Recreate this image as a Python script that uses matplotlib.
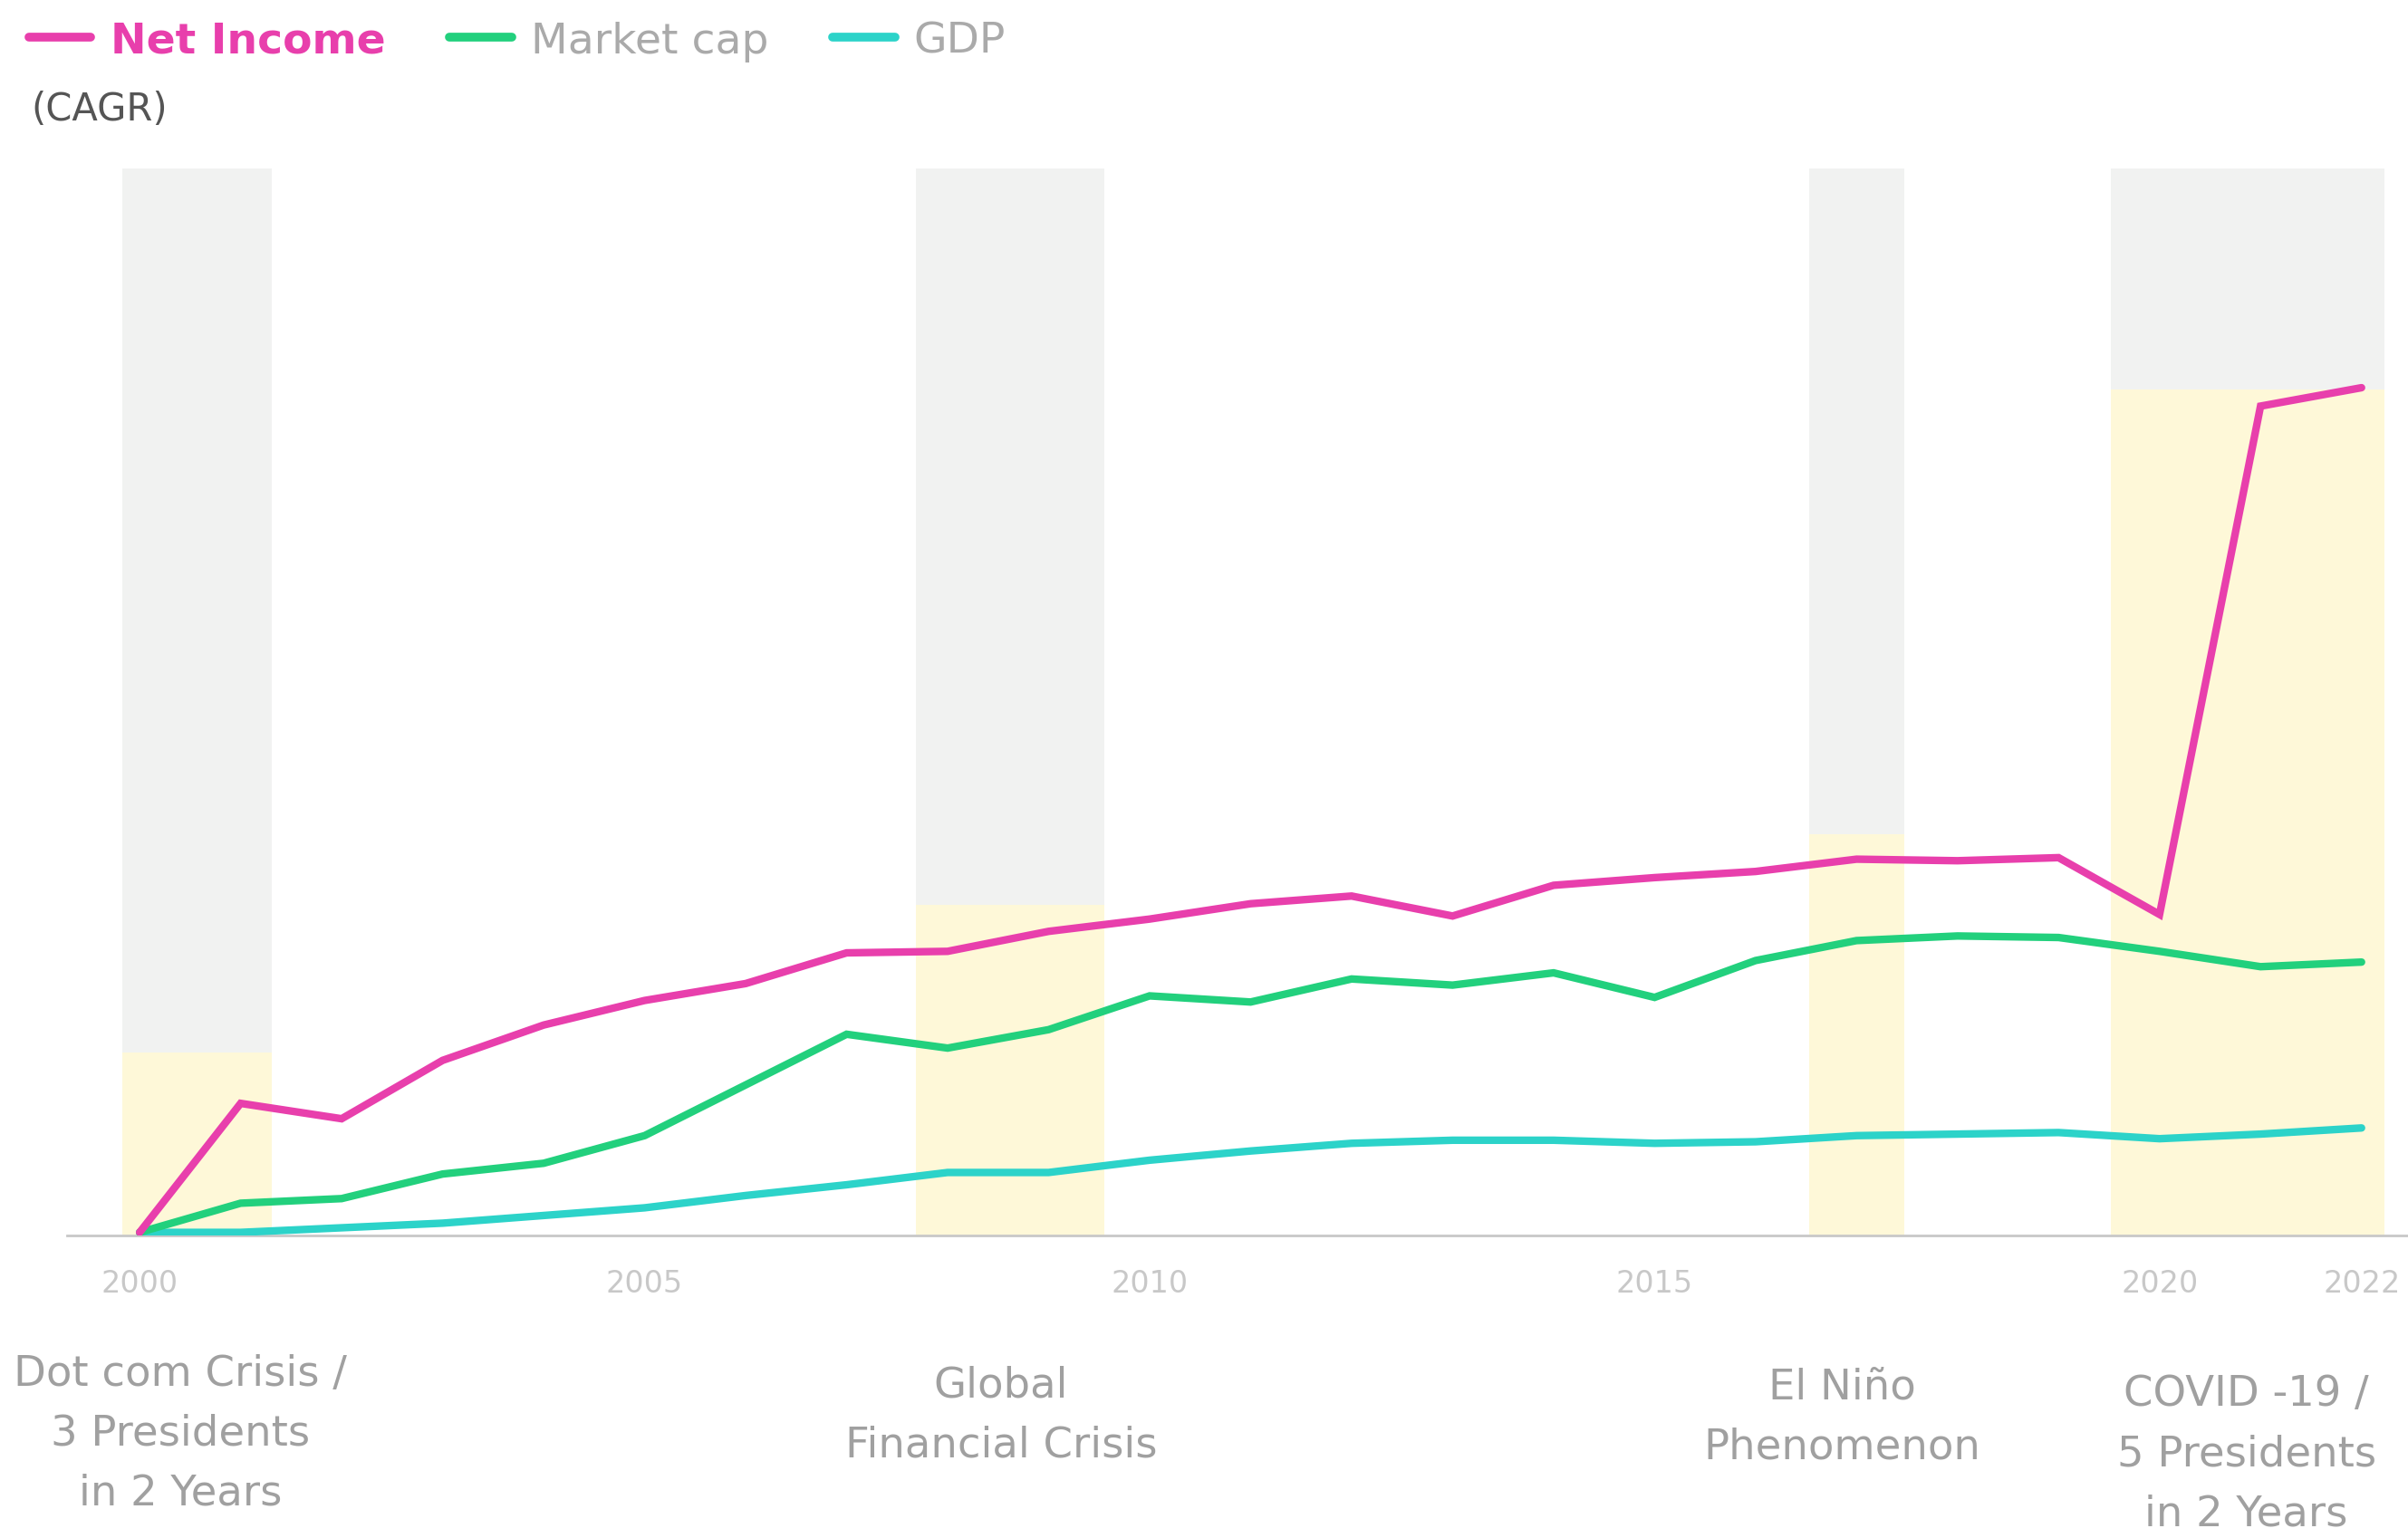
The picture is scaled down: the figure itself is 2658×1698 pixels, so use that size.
import matplotlib.pyplot as plt
from matplotlib.lines import Line2D
from matplotlib.transforms import blended_transform_factory

plt.rcParams['font.family'] = ['DejaVu Sans']

# CAGR index (arbitrary units, 0 = base year 2000)
years = list(range(2000, 2023))
net_income = [2, 86, 76, 114, 137, 153, 164, 184, 185, 198, 206, 216, 221, 208, 228,
              233, 237, 245, 244, 246, 209, 540, 552]
market_cap = [2, 21, 24, 40, 47, 65, 98, 131, 122, 134, 156, 152, 167, 163, 171,
              155, 179, 192, 195, 194, 185, 175, 178]
gdp = [2, 2, 5, 8, 13, 18, 26, 33, 41, 41, 49, 55, 60, 62, 62,
       60, 61, 65, 66, 67, 63, 66, 70]

# crisis periods: start, end, height of the yellow part, label
band_start = [1999.83, 2007.69, 2016.53, 2019.52]
band_end = [2001.31, 2009.55, 2017.47, 2022.23]
band_top = [119, 215, 261, 551]
band_labels = ["Dot com Crisis /\n3 Presidents\nin 2 Years",
               "Global\nFinancial Crisis",
               "El Niño\nPhenomenon",
               "COVID -19 /\n5 Presidents\nin 2 Years"]
label_x = [2000.4, 2008.53, 2016.86, 2020.86]
label_y = [0.068, 0.080, 0.079, 0.055]

ymax = 695

pink = "#e83fac"
green = "#22d07d"
teal = "#2cd3c9"

fig = plt.figure(figsize=(26.58, 16.99), dpi=100)
ax = fig.add_axes([0.028, 0.1966, 0.972, 0.6936])

for s, e, t in zip(band_start, band_end, band_top):
    ax.axvspan(s, e, ymin=0, ymax=1, color="#f1f2f1", lw=0, zorder=0)
    ax.fill_between([s, e], 0, t, color="#fef8d8", lw=0, zorder=1)

ax.plot(years, gdp, color=teal, lw=6, solid_capstyle="round", solid_joinstyle="miter", zorder=3)
ax.plot(years, market_cap, color=green, lw=6, solid_capstyle="round", solid_joinstyle="miter", zorder=4)
ax.plot(years, net_income, color=pink, lw=6, solid_capstyle="round", solid_joinstyle="miter", zorder=5)

ax.set_xlim(1999.285, 2022.46)
ax.set_ylim(0, ymax)

for side in ["top", "right", "left"]:
    ax.spines[side].set_visible(False)
ax.spines["bottom"].set_color("#c8c8c8")
ax.spines["bottom"].set_linewidth(2)
ax.set_yticks([])
ax.set_xticks([2000, 2005, 2010, 2015, 2020, 2022])
ax.tick_params(axis="x", length=0, pad=26, labelsize=24, labelcolor="#c8c8c8")

trans = blended_transform_factory(ax.transData, fig.transFigure)
for lx, ly, txt in zip(label_x, label_y, band_labels):
    ax.text(lx, ly, txt, transform=trans, ha="center", va="center", fontsize=33.5,
            color="#a0a0a0", linespacing=1.6, clip_on=False)

handles = [Line2D([], [], color=pink, lw=7, solid_capstyle="round"),
           Line2D([], [], color=green, lw=7, solid_capstyle="round"),
           Line2D([], [], color=teal, lw=7, solid_capstyle="round")]
leg = fig.legend(handles, ["Net Income", "Market cap", "GDP"], loc="upper left",
                 bbox_to_anchor=(-0.004, 1.011), ncol=3, frameon=False, fontsize=34,
                 handlelength=1.45, handletextpad=0.45, columnspacing=1.5)
texts = leg.get_texts()
texts[0].set_color(pink)
texts[0].set_fontweight("bold")
texts[1].set_color("#aaaaaa")
texts[2].set_color("#aaaaaa")

fig.text(0.013, 0.929, "(CAGR)", fontsize=30, color="#555555", va="center")

fig.savefig("out.png", dpi=100)
